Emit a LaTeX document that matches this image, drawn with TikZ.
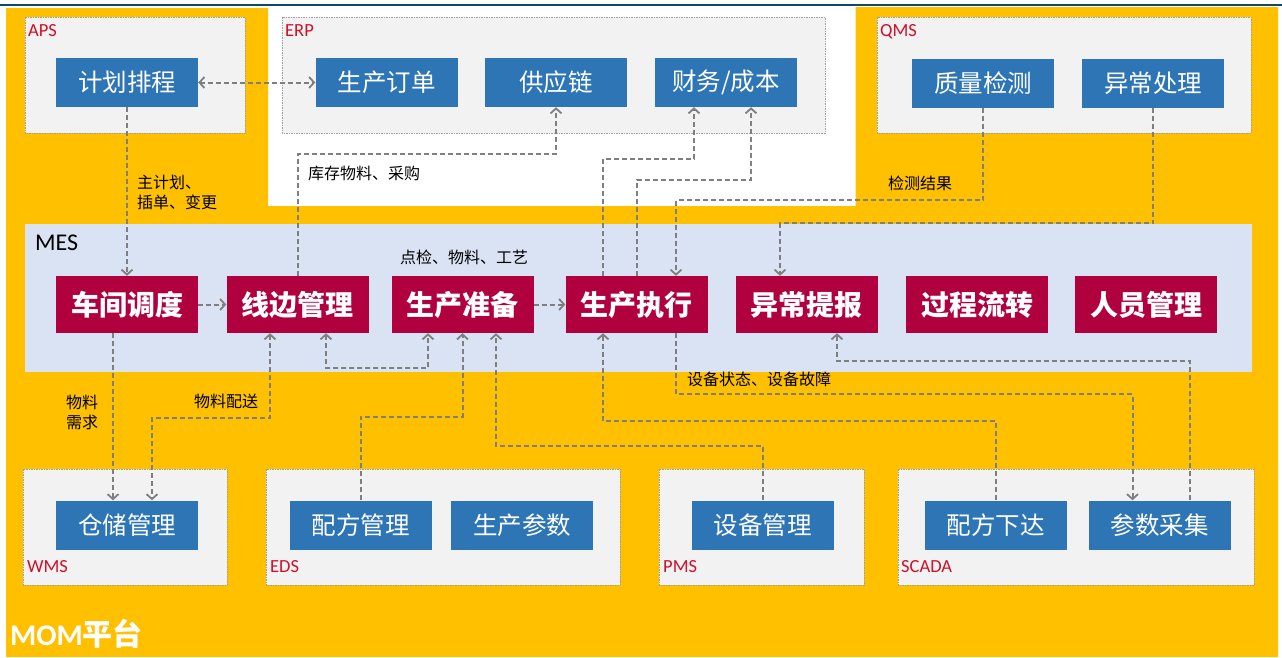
\documentclass[tikz,border=0pt]{standalone}
\usepackage{fontspec}
\setmainfont{Carlito}
\newfontfamily\cjk{Noto Sans CJK SC}
\usetikzlibrary{arrows.meta}
\definecolor{momyellow}{HTML}{FFC000}
\definecolor{boxblue}{HTML}{2E75B6}
\definecolor{mesred}{HTML}{B0003E}
\definecolor{mesbg}{HTML}{DAE3F3}
\definecolor{contbg}{HTML}{F2F2F2}
\definecolor{contline}{HTML}{A0A0A0}
\definecolor{connc}{HTML}{7F7F7F}
\definecolor{labred}{HTML}{D0102A}
\definecolor{topline}{HTML}{0C4A6A}
\tikzset{
  bluebox/.style={fill=boxblue, text=white, minimum width=142pt, minimum height=49pt, inner sep=0pt, font=\cjk\fontsize{24.5}{28}\selectfont},
  mesbox/.style={fill=mesred, text=white, minimum width=142pt, minimum height=57pt, inner sep=0pt, font=\cjk\bfseries\fontsize{28}{32}\selectfont},
  container/.style={draw=contline, fill=contbg, line width=0.9pt, dash pattern=on 1.5pt off 1pt},
  syslabel/.style={text=labred, font=\fontsize{18.5}{22}\selectfont, anchor=west, inner sep=0pt},
  conn/.style={draw=connc, line width=2pt, dash pattern=on 5pt off 3pt, >={Straight Barb[length=5pt,width=11pt,line width=1.8pt]}},
  flabel/.style={font=\cjk\fontsize{16}{20}\selectfont, text=black, inner sep=0pt}
}
\begin{document}
\begin{tikzpicture}[x=1pt,y=-1pt]
\useasboundingbox (0,0) rectangle (1282,657);
\fill[white] (0,0) rectangle (1282,657);
\draw[topline, line width=2pt] (0,4.5) -- (1282,4.5);
% MOM platform background
\fill[momyellow] (6,8) -- (268,8) -- (268,206) -- (855.5,206) -- (855.5,7) -- (1278,7) -- (1278,657) -- (6,657) -- cycle;
% MES region
\fill[mesbg] (25,224) rectangle (1252,372);
\node[anchor=west, inner sep=0pt, font=\fontsize{24}{28}\selectfont] (meslab) at (35,243) {MES};
% containers
\draw[container] (25,17) rectangle (245,133);
\draw[container] (282,17) rectangle (825,133);
\draw[container] (877,17) rectangle (1251,133);
\draw[container] (23,469) rectangle (227,585);
\draw[container] (266,469) rectangle (620,585);
\draw[container] (659,469) rectangle (864,585);
\draw[container] (898,469) rectangle (1254,585);
\node[syslabel] (aps) at (28,31) {APS};
\node[syslabel] (erp) at (285,31) {ERP};
\node[syslabel] (qms) at (880,32) {QMS};
\node[syslabel] (wms) at (27,567) {WMS};
\node[syslabel] (eds) at (270,567) {EDS};
\node[syslabel] (pms) at (663,567) {PMS};
\node[syslabel] (scada) at (901,567) {SCADA};
% top boxes
\node[bluebox] (jhpc) at (127,82.5) {计划排程};
\node[bluebox] (scdd) at (386.5,82.5) {生产订单};
\node[bluebox] (gyl) at (556,82.5) {供应链};
\node[bluebox] (cwcb) at (726,82.5) {财务/成本};
\node[bluebox] (zljc) at (983,83) {质量检测};
\node[bluebox] (ycl) at (1153,83) {异常处理};
% MES boxes
\node[mesbox] (cjdd) at (127,304.5) {车间调度};
\node[mesbox] (xbgl) at (297.5,304.5) {线边管理};
\node[mesbox] (sczb) at (462.5,304.5) {生产准备};
\node[mesbox] (sczx) at (636.5,304.5) {生产执行};
\node[mesbox] (yctb) at (806.5,304.5) {异常提报};
\node[mesbox] (gclz) at (977,304.5) {过程流转};
\node[mesbox] (rygl) at (1146,304.5) {人员管理};
% bottom boxes
\node[bluebox] (ccgl) at (127,525) {仓储管理};
\node[bluebox] (pfgl) at (360.5,525) {配方管理};
\node[bluebox] (scsc) at (522,525) {生产参数};
\node[bluebox] (sbgl) at (762.5,525) {设备管理};
\node[bluebox] (pfxd) at (995.5,525) {配方下达};
\node[bluebox] (sjcj) at (1159.5,525) {参数采集};
% connectors
\draw[conn,<->] (jhpc.east) -- (scdd.west);
\draw[conn,->] (jhpc.south) -- (cjdd.north);
\draw[conn,->] (cjdd.east) -- (xbgl.west);
\draw[conn,->] (sczb.east) -- (sczx.west);
\draw[conn,->] (xbgl.north) -- ++(0,-122) -| (gyl.south);
\draw[conn,->] ([xshift=-33.5pt]sczx.north) -- ++(0,-117) -| ([xshift=-32pt]cwcb.south);
\draw[conn,->] (sczx.north) -- ++(0,-96) -| ([xshift=25pt]cwcb.south);
\draw[conn,->] (zljc.south) -- ++(0,92.5) -| ([xshift=39.5pt]sczx.north);
\draw[conn,->] (ycl.south) -- ++(0,115.5) -| ([xshift=-26.5pt]yctb.north);
\draw[conn,<->] ([xshift=28.5pt]xbgl.south) -- ++(0,35) -| ([xshift=-34.5pt]sczb.south);
\draw[conn,->] ([xshift=-14pt]cjdd.south) -- ([xshift=-14pt]ccgl.north);
\draw[conn,<->] ([xshift=-27.5pt]xbgl.south) -- ++(0,85) -| ([xshift=25pt]ccgl.north);
\draw[conn,->] (pfgl.north) -- ++(0,-83.5) -| (sczb.south);
\draw[conn,->] (sbgl.north) -- ++(0,-54.5) -| ([xshift=33.5pt]sczb.south);
\draw[conn,->] (pfxd.north) -- ++(0,-79) -| ([xshift=-33.5pt]sczx.south);
\draw[conn,->] ([xshift=39.5pt]sczx.south) -- ++(0,61) -| ([xshift=-27pt]sjcj.north);
\draw[conn,->] ([xshift=30pt]sjcj.north) -- ++(0,-139) -| ([xshift=30.5pt]yctb.south);
% connector labels
\node[flabel, anchor=west, align=left, font=\cjk\fontsize{16}{19.5}\selectfont] (l1) at (137,192.5) {主计划、\\插单、变更};
\node[flabel, anchor=west] (l2) at (308,173) {库存物料、采购};
\node[flabel, anchor=west] (l3) at (888,183) {检测结果};
\node[flabel] (l4) at (464,257) {点检、物料、工艺};
\node[flabel, align=center, font=\cjk\fontsize{16}{20}\selectfont] (l5) at (82,412) {物料\\需求};
\node[flabel] (l6) at (226,401) {物料配送};
\node[flabel, anchor=west] (l7) at (687,379) {设备状态、设备故障};
% platform label
\node[anchor=west, inner sep=0pt, text=white, font=\bfseries\fontsize{30}{34}\selectfont] (mom) at (10,634) {MOM{\cjk\bfseries 平台}};
\end{tikzpicture}
\end{document}
